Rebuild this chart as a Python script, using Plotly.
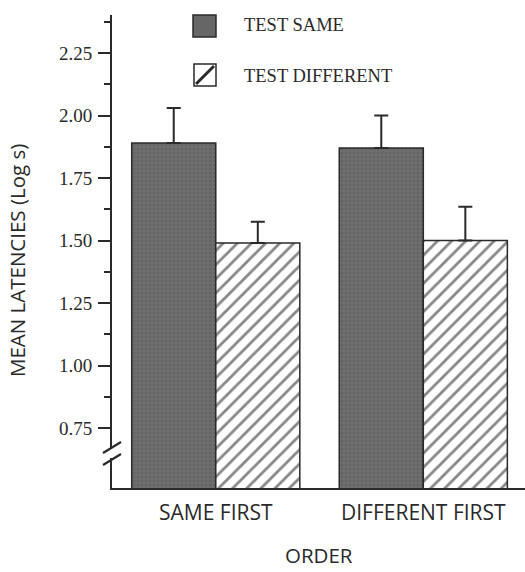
import plotly.graph_objects as go

# Mean latencies (log s) by test condition and order of presentation
orders = ["SAME FIRST", "DIFFERENT FIRST"]
test_same = [1.89, 1.87]
test_same_err = [0.14, 0.13]
test_diff = [1.49, 1.50]
test_diff_err = [0.085, 0.135]

y_ticks = [0.75, 1.00, 1.25, 1.50, 1.75, 2.00, 2.25]
y_tick_text = ["0.75", "1.00", "1.25", "1.50", "1.75", "2.00", "2.25"]
y_minor = [0.875, 1.125, 1.375, 1.625, 1.875, 2.125, 2.375]

series_names = ["TEST SAME", "TEST DIFFERENT"]
y_title = "MEAN LATENCIES (Log s)"
x_title = "ORDER"

W, H = 525, 572
ML, MR, MT, MB = 112, 0, 15, 84
PW, PH = W - ML - MR, H - MT - MB

INK = "#2a2a2a"
GREY = "#6e6e6e"
SERIF = "Liberation Serif"
SANS = "Open Sans"


def px_x(px):
    return (px - ML) / PW


def px_y(py):
    return (H - MB - py) / PH


fig = go.Figure()

fig.add_trace(go.Bar(
    x=orders, y=test_same, name=series_names[0], showlegend=False,
    marker=dict(color=GREY, line=dict(color=INK, width=1.5),
                pattern=dict(shape=".", fgcolor="#555555", size=4,
                             solidity=0.35, fillmode="overlay")),
    error_y=dict(type="data", symmetric=False, array=test_same_err,
                 arrayminus=[0, 0], color=INK, thickness=2, width=7),
))
fig.add_trace(go.Bar(
    x=orders, y=test_diff, name=series_names[1], showlegend=False,
    marker=dict(color="white", line=dict(color=INK, width=1.5),
                pattern=dict(shape="/", fgcolor="#101010", size=10,
                             solidity=0.28, fillmode="overlay")),
    error_y=dict(type="data", symmetric=False, array=test_diff_err,
                 arrayminus=[0, 0], color=INK, thickness=2, width=7),
))

shapes = []
annotations = []

# Legend swatches and labels
shapes.append(dict(type="rect", xref="paper", yref="paper",
                   x0=px_x(193), x1=px_x(216), y0=px_y(37), y1=px_y(15),
                   fillcolor="#666666", line=dict(color=INK, width=1.5)))
shapes.append(dict(type="rect", xref="paper", yref="paper",
                   x0=px_x(194), x1=px_x(216), y0=px_y(86), y1=px_y(64),
                   fillcolor="white", line=dict(color=INK, width=1.5)))
shapes.append(dict(type="line", xref="paper", yref="paper",
                   x0=px_x(196), x1=px_x(214), y0=px_y(84), y1=px_y(66),
                   line=dict(color=INK, width=3)))
for name, py in zip(series_names, [25, 76]):
    annotations.append(dict(text=name, xref="paper", yref="paper",
                            x=px_x(242), y=px_y(py), xanchor="left",
                            yanchor="middle", showarrow=False,
                            font=dict(family=SERIF, size=18.5, color=INK)))

# Axis titles
annotations.append(dict(text=y_title, xref="paper", yref="paper",
                        x=px_x(17), y=px_y(261), xanchor="center",
                        yanchor="middle", textangle=-90, showarrow=False,
                        font=dict(family=SANS, size=20.5, color=INK)))
annotations.append(dict(text=x_title, xref="paper", yref="paper",
                        x=px_x(319), y=px_y(555), xanchor="center",
                        yanchor="middle", showarrow=False,
                        font=dict(family=SANS, size=20.5, color=INK)))

# Axis break marks on the y axis
shapes.append(dict(type="rect", xref="paper", yref="paper",
                   x0=px_x(109), x1=px_x(116), y0=px_y(458), y1=px_y(449),
                   fillcolor="white", line=dict(width=0), layer="above"))
for dy in (0, 12):
    shapes.append(dict(type="line", xref="paper", yref="paper",
                       x0=px_x(103), x1=px_x(121),
                       y0=px_y(453 + dy), y1=px_y(442 + dy),
                       line=dict(color=INK, width=2.2)))

fig.update_layout(
    width=W, height=H,
    margin=dict(l=ML, r=MR, t=MT, b=MB, pad=0),
    paper_bgcolor="white", plot_bgcolor="white",
    barmode="group", bargap=0.19, bargroupgap=0,
    shapes=shapes, annotations=annotations,
    showlegend=False,
    xaxis=dict(
        type="category", range=[-0.5, 1.49],
        showline=True, linecolor=INK, linewidth=2,
        showgrid=False, zeroline=False, ticks="",
        ticklabelstandoff=5,
        tickfont=dict(family=SANS, size=21, color=INK),
    ),
    yaxis=dict(
        range=[0.51, 2.402],
        showline=True, linecolor=INK, linewidth=2,
        showgrid=False, zeroline=False,
        tickmode="array", tickvals=y_ticks, ticktext=y_tick_text,
        ticks="outside", ticklen=12, tickwidth=2, tickcolor=INK,
        ticklabelstandoff=2,
        tickfont=dict(family=SERIF, size=19, color=INK),
        minor=dict(tickvals=y_minor, ticks="outside", ticklen=6,
                   tickwidth=2, tickcolor=INK, showgrid=False),
    ),
)

fig.write_html("out.html")
